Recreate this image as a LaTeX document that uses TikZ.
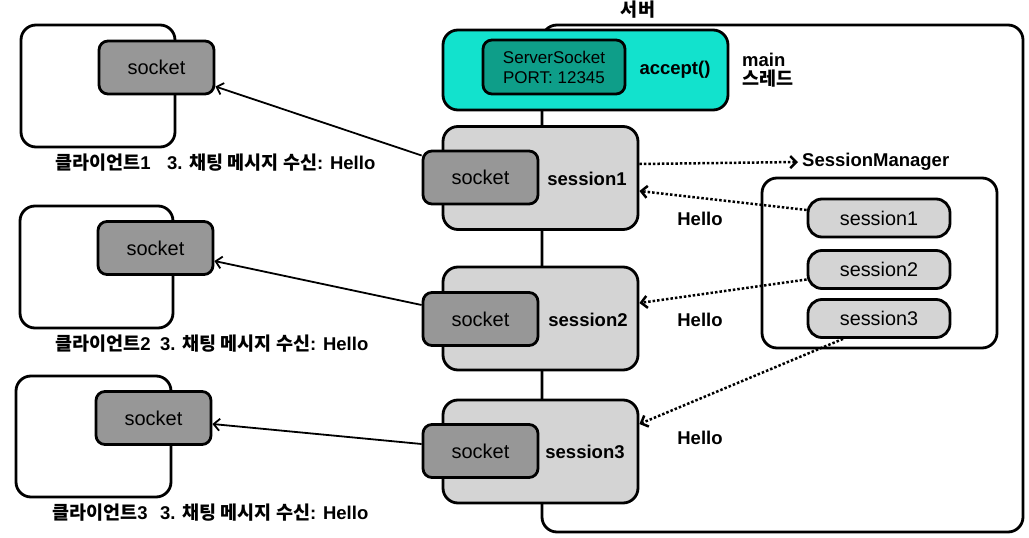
\documentclass[tikz,border=0pt]{standalone}
\usepackage{fontspec}
\setmainfont{Liberation Sans}
\newfontfamily\kr{Noto Sans CJK KR}
\usetikzlibrary{arrows.meta}
\definecolor{mainteal}{HTML}{12E2CD}
\definecolor{sockteal}{HTML}{0E9E89}
\definecolor{sessgray}{HTML}{D4D4D4}
\definecolor{sockgray}{HTML}{979797}

\begin{document}
\begin{tikzpicture}[x=1pt, y=-1pt,
	txt/.style={font=\fontsize{20}{22}\selectfont, inner sep=0pt},
	boldtxt/.style={font=\fontsize{18.5}{20}\selectfont\bfseries, inner sep=0pt},
	frame/.style={draw, line width=2.8pt, rounded corners=15pt, inner sep=0pt},
	sockbox/.style={frame, fill=sockgray, rounded corners=9pt, minimum width=115pt, minimum height=53pt, font=\fontsize{20}{22}\selectfont},
	sessbox/.style={frame, fill=sessgray, minimum width=195pt, minimum height=103pt},
	pill/.style={frame, fill=sessgray, rounded corners=14pt, minimum width=142pt, minimum height=38pt, font=\fontsize{19.8}{22}\selectfont},
	msg/.style={-{Straight Barb[length=6pt, width=12pt]}, line width=1.8pt},
	dotmsg/.style={-{Straight Barb[length=6pt, width=12pt]}, line width=2.5pt, dash pattern=on 2.5pt off 2pt}
]
	\useasboundingbox (0,0) rectangle (1029,538);

	% Server
	\node[frame, minimum width=481pt, minimum height=507pt] (server) at (782.5,278.5) {};
	\node[boldtxt] (serverlabel) at (638,10) {{\kr 서버}};

	% main thread
	\node[frame, fill=mainteal, minimum width=285pt, minimum height=80pt] (main) at (585.5,70) {};
	\node[frame, fill=sockteal, rounded corners=9pt, minimum width=142pt, minimum height=54pt, align=center, font=\fontsize{17}{20}\selectfont] (serversocket) at (554,67) {ServerSocket\\PORT: 12345};
	\node[boldtxt] (accept) at (675,70) {accept()};
	\node[boldtxt, anchor=west, align=left, font=\fontsize{18.5}{19}\selectfont\bfseries] (mainlabel) at (742,70) {main\\{\kr 스레드}};

	% Sessions
	\node[sessbox] (session1) at (540.5,178) {};
	\node[sockbox] (sock1) at (480.5,177.5) {socket};
	\node[boldtxt] at (587,179) {session1};

	\node[sessbox] (session2) at (540.5,318.5) {};
	\node[sockbox] (sock2) at (480.5,319) {socket};
	\node[boldtxt] at (588,320) {session2};

	\node[sessbox] (session3) at (540.5,451.5) {};
	\node[sockbox] (sock3) at (480.5,451) {socket};
	\node[boldtxt] at (585,452) {session3};

	% SessionManager
	\node[boldtxt, anchor=west] (smlabel) at (802,162) {SessionManager};
	\node[frame, minimum width=235pt, minimum height=170pt] (manager) at (879.5,263) {};
	\node[pill] (pill1) at (879,218) {session1};
	\node[pill] (pill2) at (879,269.5) {session2};
	\node[pill] (pill3) at (879,318.5) {session3};

	% Clients
	\node[frame, minimum width=154pt, minimum height=122pt] (client1) at (98,86) {};
	\node[sockbox] (csock1) at (156.5,67.5) {socket};
	\node[boldtxt, anchor=west] (cname1) at (55,163) {{\kr 클라이언트}1};
	\node[boldtxt, anchor=west] (cmsg1) at (167,163) {3. {\kr 채팅 메시지 수신}: Hello};

	\node[frame, minimum width=153pt, minimum height=122pt] (client2) at (96.5,267) {};
	\node[sockbox] (csock2) at (155.5,248) {socket};
	\node[boldtxt, anchor=west] (cname2) at (55,344) {{\kr 클라이언트}2};
	\node[boldtxt, anchor=west] (cmsg2) at (160,344) {3. {\kr 채팅 메시지 수신}: Hello};

	\node[frame, minimum width=155pt, minimum height=121pt] (client3) at (93.5,436.5) {};
	\node[sockbox] (csock3) at (153.5,418) {socket};
	\node[boldtxt, anchor=west] (cname3) at (52,513) {{\kr 클라이언트}3};
	\node[boldtxt, anchor=west] (cmsg3) at (160,513) {3. {\kr 채팅 메시지 수신}: Hello};

	% Messages
	\draw[dotmsg] ([yshift=14pt]session1.east) -- ([xshift=-4pt]smlabel.west);
	\draw[dotmsg] ([yshift=8pt]pill1.west) -- ([yshift=-13pt]session1.east);
	\node[boldtxt] (hello1) at (700,219) {Hello};
	\draw[dotmsg] ([yshift=-10pt]pill2.west) -- ([yshift=15.5pt]session2.east);
	\node[boldtxt] (hello2) at (700,320) {Hello};
	\draw[dotmsg] ([xshift=-36pt]pill3.south) -- ([yshift=27.5pt]session3.east);
	\node[boldtxt] (hello3) at (700,438) {Hello};

	\draw[msg] ([yshift=22pt]sock1.west) -- ([yshift=-19pt]csock1.east);
	\draw[msg] ([yshift=14pt]sock2.west) -- ([yshift=-13pt]csock2.east);
	\draw[msg] ([yshift=7pt]sock3.west) -- ([yshift=-6pt]csock3.east);

\end{tikzpicture}
\end{document}
